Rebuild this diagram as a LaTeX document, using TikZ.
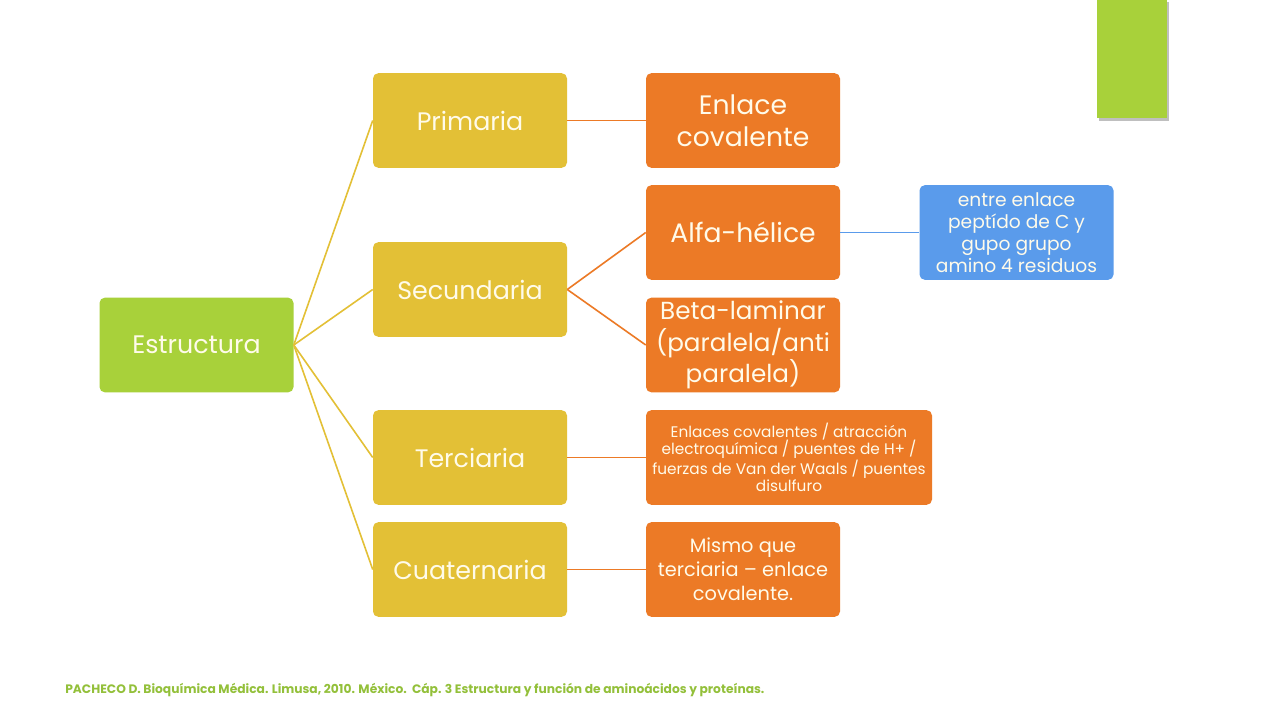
\documentclass[tikz,border=0pt]{standalone}
\usepackage{fontspec}
\setmainfont{Poppins}
\definecolor{cgreen}{HTML}{A8D13A}
\definecolor{cyellow}{HTML}{E3C036}
\definecolor{corange}{HTML}{EC7A26}
\definecolor{cblue}{HTML}{5A9BEB}
\definecolor{ctext}{HTML}{FFFBEA}
\definecolor{cfoot}{HTML}{93C03A}
\begin{document}
\begin{tikzpicture}[x=0.75pt,y=-0.75pt,
  box/.style={rectangle, rounded corners=4pt, inner sep=2pt, text=ctext, align=center,
    minimum width=145.5pt, minimum height=71pt, font=\fontsize{19}{23}\selectfont},
  lvone/.style={box, fill=cyellow},
  lvtwo/.style={box, fill=corange},
  lvthree/.style={box, fill=cblue},
  ylink/.style={draw=cyellow, line width=1.2pt},
  olink/.style={draw=corange, line width=1.2pt},
  blink/.style={draw=cblue, line width=1.2pt}]
\useasboundingbox (0,0) rectangle (1280,720);
\fill[white] (0,0) rectangle (1280,720);
% green bar
\fill[black!25] (1099,2) rectangle (1169,121);
\fill[cgreen] (1097,0) rectangle (1167,118);
% nodes
\node[box, fill=cgreen] (est) at (196.5,345) {Estructura};
\node[lvone] (pri) at (470,120.5) {Primaria};
\node[lvone] (sec) at (470,289.5) {Secundaria};
\node[lvone] (ter) at (470,457.5) {Terciaria};
\node[lvone] (cua) at (470,569.5) {Cuaternaria};
\node[lvtwo, font=\fontsize{20}{24}\selectfont] (enl) at (743,120.5) {Enlace\\covalente};
\node[lvtwo, font=\fontsize{20}{24}\selectfont] (alf) at (743,232.5) {Alfa-hélice};
\node[lvtwo, font=\fontsize{18.5}{23.5}\selectfont] (bet) at (743,345) {Beta-laminar\\(paralela/anti\\paralela)};
\node[lvtwo, minimum width=214.5pt, font=\fontsize{11.5}{13}\selectfont] (tet) at (789,457.5) {Enlaces covalentes / atracción\\electroquímica / puentes de H+ /\\fuerzas de Van der Waals / puentes\\disulfuro};
\node[lvtwo, font=\fontsize{14.5}{18}\selectfont] (mis) at (743,569.5) {Mismo que\\terciaria -- enlace\\covalente.};
\node[lvthree, font=\fontsize{14}{16.5}\selectfont] (ent) at (1016.5,232.5) {entre enlace\\peptído de C y\\gupo grupo\\amino 4 residuos};
% links
\draw[ylink] (est.east) -- (pri.west);
\draw[ylink] (est.east) -- (sec.west);
\draw[ylink] (est.east) -- (ter.west);
\draw[ylink] (est.east) -- (cua.west);
\draw[olink] (pri.east) -- (enl.west);
\draw[olink] (sec.east) -- (alf.west);
\draw[olink] (sec.east) -- (bet.west);
\draw[olink] (ter.east) -- (tet.west);
\draw[olink] (cua.east) -- (mis.west);
\draw[blink] (alf.east) -- (ent.west);
% footer
\node[anchor=west, text=cfoot, font=\fontsize{9.2}{11}\selectfont\bfseries, inner sep=0pt] (foot) at (65,690) {PACHECO D. Bioquímica Médica. Limusa, 2010. México.\ \ Cáp. 3 Estructura y función de aminoácidos y proteínas.};
\end{tikzpicture}
\end{document}
